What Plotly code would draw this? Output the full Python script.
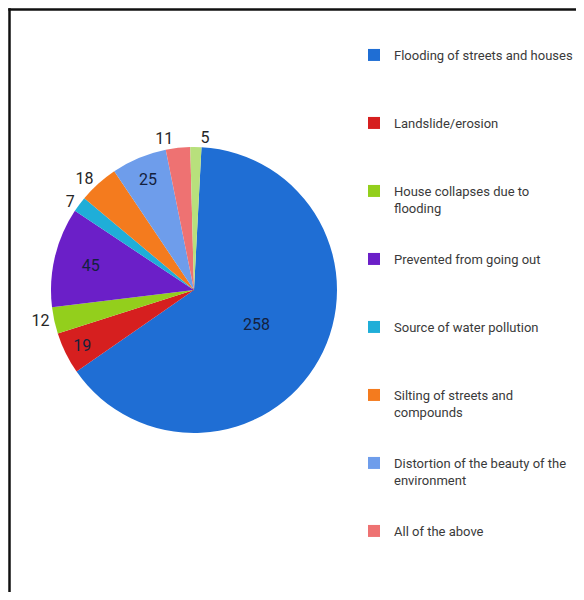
import plotly.graph_objects as go

# ---- data ----
categories = [
    "Flooding of streets and houses",
    "Landslide/erosion",
    "House collapses due to flooding",
    "Prevented from going out",
    "Source of water pollution",
    "Silting of streets and compounds",
    "Distortion of the beauty of the environment",
    "All of the above",
    "Others",
]
counts = [258, 19, 12, 45, 7, 18, 25, 11, 5]
legend_count = 8  # only the first eight categories are visible in the legend

# ---- styles ----
colors = ["#1F6ED4", "#D61F1F", "#93CF1C", "#6B1FC8", "#1FAED8",
          "#F47B1E", "#6E9DEB", "#EE7272", "#B8E07C"]
text_pos = ["inside", "inside", "outside", "inside", "outside",
            "outside", "inside", "outside", "outside"]
text_col = ["#14213D", "#14213D", "#262626", "#14213D", "#262626",
            "#262626", "#14213D", "#262626", "#262626"]
wrapped = {
    "House collapses due to flooding": "House collapses due to<br>flooding",
    "Silting of streets and compounds": "Silting of streets and<br>compounds",
    "Distortion of the beauty of the environment": "Distortion of the beauty of the<br>environment",
}
FONT = "Roboto, sans-serif"

W, H = 568, 584          # page body adds an 8px margin around the figure
cx, cy, r = 186, 282, 143
dom_x = [(cx - r) / W, (cx + r) / W]
dom_y = [1 - (cy + r) / H, 1 - (cy - r) / H]

fig = go.Figure()

# legend entries (tiny pies fully hidden under the main pie)
for i in range(legend_count):
    name = categories[i]
    txt = wrapped.get(name, name + "<br> ")
    fig.add_trace(go.Pie(
        labels=[txt], values=[counts[i]],
        marker=dict(colors=[colors[i]]),
        textinfo="none", hoverinfo="skip",
        domain=dict(x=[(cx - 2) / W, (cx + 2) / W], y=[1 - (cy + 2) / H, 1 - (cy - 2) / H]),
        legendgroup=name, showlegend=True, sort=False,
    ))

# main pie
fig.add_trace(go.Pie(
    labels=categories, values=counts,
    marker=dict(colors=colors),
    sort=False, direction="clockwise", rotation=3,
    textinfo="value", textposition=text_pos,
    insidetextfont=dict(family=FONT, size=16, color=text_col),
    outsidetextfont=dict(family=FONT, size=16, color=text_col),
    domain=dict(x=dom_x, y=dom_y),
    showlegend=False, automargin=False,
))

fig.update_layout(
    width=W, height=H,
    margin=dict(l=0, r=0, t=0, b=0, autoexpand=False),
    paper_bgcolor="white",
    legend=dict(
        x=346 / W, xanchor="left",
        y=1 - 32 / H, yanchor="top",
        font=dict(family=FONT, size=13, color="#3A3A3A"),
        valign="top", tracegroupgap=31.2,
        bgcolor="rgba(0,0,0,0)",
    ),
    shapes=[
        dict(type="line", xref="paper", yref="paper",
             x0=1.5 / W, x1=1.5 / W, y0=-0.05, y1=1 - 0.3 / H,
             line=dict(color="#111111", width=2.5)),
        dict(type="line", xref="paper", yref="paper",
             x0=0.3 / W, x1=1.05, y0=1 - 1.5 / H, y1=1 - 1.5 / H,
             line=dict(color="#111111", width=2.5)),
    ],
)

fig.write_html("out.html")
